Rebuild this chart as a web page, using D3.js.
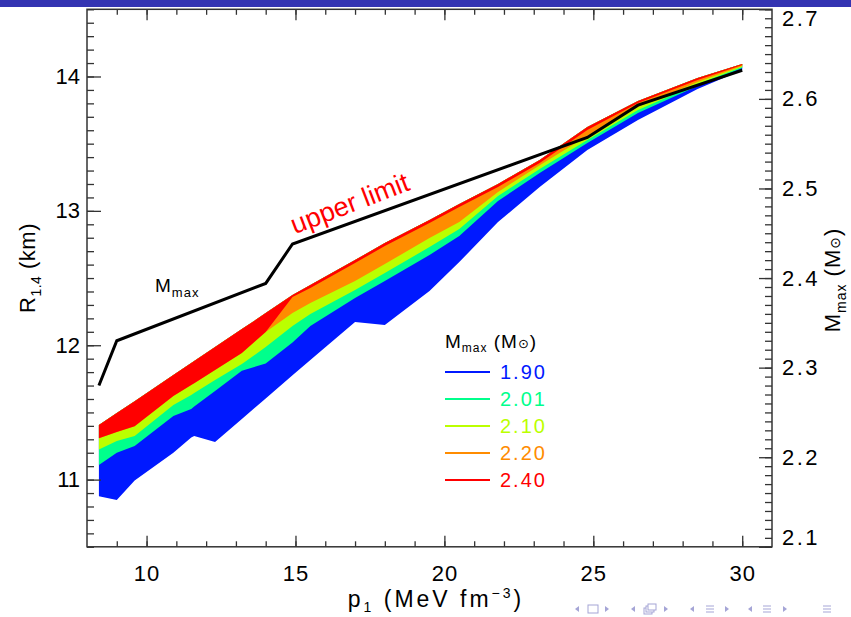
<!DOCTYPE html>
<html>
<head>
<meta charset="utf-8">
<script src="https://cdn.jsdelivr.net/npm/d3@7"></script>
<style>
  body { margin: 0; background: #fff; }
  svg text { font-family: "Liberation Sans", Arial, sans-serif; }
</style>
</head>
<body>
<div id="chart"></div>
<script>
// pressure grid p1 (MeV fm^-3) shared by all band edges
const p1 = [8.4, 9.0, 9.6, 10.9, 11.5, 11.6, 12.3, 13.2, 14.0, 14.9, 15.5, 17.0, 18.0, 19.5, 20.5, 21.8, 23.2, 24.8, 26.5, 28.5, 30.0];

// upper edge of every band (R1.4, km)
const upperR = [11.406, 11.495, 11.584, 11.778, 11.867, 11.882, 11.986, 12.120, 12.239, 12.373, 12.448, 12.634, 12.760, 12.932, 13.051, 13.200, 13.378, 13.624, 13.817, 13.989, 14.093];

// lower edges, one per Mmax value
const low190 = [10.877, 10.848, 10.994, 11.199, 11.313, 11.324, 11.279, 11.451, 11.604, 11.776, 11.890, 12.173, 12.150, 12.403, 12.619, 12.917, 13.177, 13.453, 13.676, 13.907, 14.048];
const low201 = [11.108, 11.200, 11.250, 11.473, 11.525, 11.544, 11.659, 11.810, 11.864, 12.021, 12.143, 12.351, 12.478, 12.671, 12.813, 13.073, 13.282, 13.505, 13.728, 13.929, 14.063];
const low210 = [11.225, 11.287, 11.324, 11.555, 11.629, 11.644, 11.741, 11.860, 11.986, 12.143, 12.232, 12.411, 12.537, 12.731, 12.865, 13.110, 13.311, 13.527, 13.750, 13.944, 14.071];
const low220 = [11.307, 11.354, 11.398, 11.622, 11.704, 11.718, 11.815, 11.942, 12.098, 12.239, 12.314, 12.478, 12.604, 12.798, 12.917, 13.140, 13.340, 13.557, 13.773, 13.959, 14.078];
const low240 = [11.307, 11.354, 11.398, 11.622, 11.704, 11.718, 11.815, 11.942, 12.098, 12.359, 12.426, 12.612, 12.738, 12.909, 13.029, 13.178, 13.356, 13.602, 13.803, 13.974, 14.085];

const massLabels = ['1.90', '2.01', '2.10', '2.20', '2.40'];
const bandColors = ['#0019ff', '#00ff8c', '#bbff00', '#ff8c00', '#ff0000'];

// maximum mass upper limit line (right axis)
const mmaxP = [8.4, 9.0, 14.0, 14.9, 24.8, 26.5, 30.0];
const mmaxM = [2.28, 2.33, 2.394, 2.438, 2.557, 2.593, 2.632];

const xTicks = [10, 15, 20, 25, 30];
const yTicks = [11, 12, 13, 14];
const y2Ticks = [2.1, 2.2, 2.3, 2.4, 2.5, 2.6, 2.7];

const svgWidth = 851, svgHeight = 617;
const plot = { left: 87, top: 9.3, right: 772, bottom: 546.8 };

const svg = d3.select('#chart').append('svg')
  .attr('width', svgWidth).attr('height', svgHeight);

// beamer header strip
svg.append('rect').attr('x', 0).attr('y', 0).attr('width', svgWidth).attr('height', 7).attr('fill', '#3434b2');

const x = d3.scaleLinear().domain([8, 31]).range([plot.left, plot.right]);
const y = d3.scaleLinear().domain([10.5, 14.5]).range([plot.bottom, plot.top]);
const y2 = d3.scaleLinear().domain([2.1, 2.7]).range([plot.bottom, plot.top]);

// bands, drawn from the widest to the narrowest
const lows = [low190, low201, low210, low220, low240];
lows.forEach((low, k) => {
  const area = d3.area()
    .x((d, i) => x(p1[i]))
    .y0((d, i) => y(low[i]))
    .y1((d, i) => y(upperR[i]));
  svg.append('path').datum(p1).attr('d', area).attr('fill', bandColors[k]);
});

// Mmax line
const mline = d3.line().x((d, i) => x(mmaxP[i])).y((d, i) => y2(mmaxM[i]));
svg.append('path').datum(mmaxP).attr('d', mline)
  .attr('fill', 'none').attr('stroke', '#000').attr('stroke-width', 3);

// axes
const tickCol = '#333';
function styleAxis(g) {
  g.select('.domain').remove();
  g.selectAll('line').attr('stroke', tickCol).attr('stroke-width', 1.3);
  g.selectAll('text').attr('fill', '#000').attr('font-size', 22);
}
const minorX = d3.range(9, 31);
svg.append('g').attr('transform', `translate(0,${plot.bottom})`)
  .call(d3.axisBottom(x).tickValues(minorX).tickSize(-5.5).tickFormat('')).call(styleAxis);
svg.append('g').attr('transform', `translate(0,${plot.bottom})`)
  .call(d3.axisBottom(x).tickValues(xTicks).tickSize(-11).tickPadding(19).tickFormat(d3.format('d'))).call(styleAxis)
  .selectAll('text').attr('letter-spacing', 1);
svg.append('g').attr('transform', `translate(0,${plot.top})`)
  .call(d3.axisTop(x).tickValues(minorX).tickSize(-5.5).tickFormat('')).call(styleAxis);
svg.append('g').attr('transform', `translate(0,${plot.top})`)
  .call(d3.axisTop(x).tickValues(xTicks).tickSize(-11).tickFormat('')).call(styleAxis);

const minorY = d3.range(105, 146).map(v => v / 10);
svg.append('g').attr('transform', `translate(${plot.left},0)`)
  .call(d3.axisLeft(y).tickValues(minorY).tickSize(-7).tickFormat('')).call(styleAxis);
svg.append('g').attr('transform', `translate(${plot.left},0)`)
  .call(d3.axisLeft(y).tickValues(yTicks).tickSize(-14).tickPadding(7).tickFormat(d3.format('d'))).call(styleAxis);

const minorY2 = d3.range(210, 271).map(v => v / 100);
svg.append('g').attr('transform', `translate(${plot.right},0)`)
  .call(d3.axisRight(y2).tickValues(minorY2).tickSize(-7).tickFormat('')).call(styleAxis);
const rAxis = svg.append('g').attr('transform', `translate(${plot.right},0)`)
  .call(d3.axisRight(y2).tickValues(y2Ticks).tickSize(-13).tickPadding(10).tickFormat(d3.format('.1f'))).call(styleAxis);
// end labels sit inside the frame, as in the original
rAxis.selectAll('text').attr('letter-spacing', 2.5)
  .attr('dy', d => d === 2.7 ? '0.72em' : d === 2.1 ? '-0.1em' : '0.32em');

// frame
svg.append('rect').attr('x', plot.left).attr('y', plot.top)
  .attr('width', plot.right - plot.left).attr('height', plot.bottom - plot.top)
  .attr('fill', 'none').attr('stroke', tickCol).attr('stroke-width', 1.5);

// axis titles
const xt = svg.append('text').attr('x', 436).attr('y', 607).attr('text-anchor', 'middle')
  .attr('font-size', 23).attr('letter-spacing', 3);
xt.append('tspan').text('p');
xt.append('tspan').attr('font-size', 14).attr('dy', 5).text('1');
xt.append('tspan').attr('dy', -5).text(' (MeV fm');
xt.append('tspan').attr('font-size', 14).attr('dy', -9).text('−3');
xt.append('tspan').attr('dy', 9).text(')');

const yt = svg.append('text').attr('transform', 'translate(35,268) rotate(-90)').attr('text-anchor', 'middle')
  .attr('font-size', 22).attr('letter-spacing', 0.5);
yt.append('tspan').text('R');
yt.append('tspan').attr('font-size', 14).attr('dy', 6).text('1.4');
yt.append('tspan').attr('dy', -6).text(' (km)');

const y2t = svg.append('text').attr('transform', 'translate(840,280) rotate(-90)').attr('text-anchor', 'middle')
  .attr('font-size', 22).attr('letter-spacing', 1);
y2t.append('tspan').text('M');
y2t.append('tspan').attr('font-size', 14).attr('dy', 6).text('max');
y2t.append('tspan').attr('dy', -6).text(' (M');
y2t.append('tspan').attr('font-family', 'DejaVu Sans').attr('font-size', 14).text('⊙');
y2t.append('tspan').text(')');

// annotations
const ml = svg.append('text').attr('x', 155).attr('y', 292).attr('font-size', 19).attr('letter-spacing', 1);
ml.append('tspan').text('M');
ml.append('tspan').attr('font-size', 13).attr('dy', 5).text('max');

svg.append('text').attr('transform', 'translate(353,212) rotate(-21)')
  .attr('text-anchor', 'middle').attr('font-size', 27).attr('fill', '#ff0000')
  .attr('font-family', 'DejaVu Sans').text('upper limit');

// legend
const lg = svg.append('g');
const lt = lg.append('text').attr('x', 445).attr('y', 348).attr('font-size', 19).attr('letter-spacing', 1);
lt.append('tspan').text('M');
lt.append('tspan').attr('font-size', 12).attr('dy', 4).text('max');
lt.append('tspan').attr('dy', -4).text('  (M');
lt.append('tspan').attr('font-family', 'DejaVu Sans').attr('font-size', 13).text('⊙');
lt.append('tspan').text(')');
massLabels.forEach((m, k) => {
  const yy = 372 + k * 27;
  lg.append('line').attr('x1', 445).attr('x2', 490).attr('y1', yy).attr('y2', yy)
    .attr('stroke', bandColors[k]).attr('stroke-width', 2);
  lg.append('text').attr('x', 500).attr('y', yy + 7).attr('font-size', 20).attr('letter-spacing', 2)
    .attr('fill', bandColors[k]).text(m);
});

// beamer navigation symbols
const nav = svg.append('g').attr('fill', '#a5a5d6').attr('stroke', '#a5a5d6');
const navY = 609;
function triL(cx) { nav.append('path').attr('d', `M${cx + 2},${navY - 3}L${cx - 2},${navY}L${cx + 2},${navY + 3}Z`).attr('stroke', 'none'); }
function triR(cx) { nav.append('path').attr('d', `M${cx - 2},${navY - 3}L${cx + 2},${navY}L${cx - 2},${navY + 3}Z`).attr('stroke', 'none'); }
function lines3(cx) {
  [-3, 0, 3].forEach(d => nav.append('line').attr('x1', cx - 4).attr('x2', cx + 4).attr('y1', navY + d).attr('y2', navY + d).attr('stroke-width', 1));
}
triL(577); nav.append('rect').attr('x', 588).attr('y', navY - 4).attr('width', 10).attr('height', 8).attr('fill', 'none');
triR(607);
triL(633);
[0, 2, 4].forEach(o => nav.append('rect').attr('x', 644 + o).attr('y', navY - 5 + (4 - o)).attr('width', 8).attr('height', 6).attr('fill', '#fff'));
triR(666);
triL(692); lines3(710); triR(727);
triL(750); lines3(767); triR(785);
lines3(827);
</script>
</body>
</html>
